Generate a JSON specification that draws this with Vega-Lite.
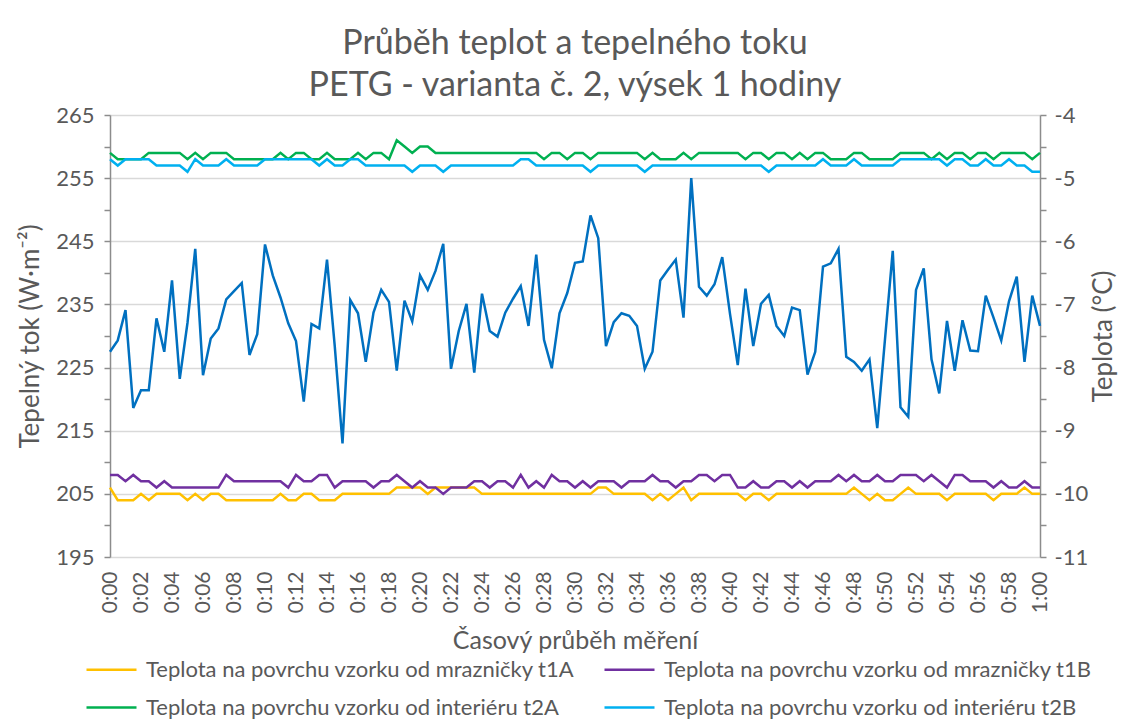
{
  "$schema": "https://vega.github.io/schema/vega-lite/v6.json",
  "width": 930,
  "height": 442,
  "autosize": {"type": "none"},
  "padding": {"left": 110, "top": 115, "right": 95, "bottom": 165},
  "background": "white",
  "title": {
    "text": ["Průběh teplot a tepelného toku", "PETG - varianta č. 2, výsek 1 hodiny"],
    "fontSize": 34, "font": "Lato", "fontWeight": "normal", "color": "#595959",
    "lineHeight": 42, "anchor": "middle", "offset": 1
  },
  "config": {
    "font": "Lato",
    "view": {"stroke": null},
    "axis": {"labelFont": "Lato", "titleFont": "Lato", "labelColor": "#595959", "titleColor": "#595959", "titleFontWeight": "normal", "labelFontSize": 22, "titleFontSize": 26}
  },
  "data": {"values": [
    {"m":0,"q":227.5,"t1A":-9.9,"t1B":-9.7,"t2A":-4.6,"t2B":-4.7},
    {"m":0.5,"q":229.3,"t1A":-10.1,"t1B":-9.7,"t2A":-4.7,"t2B":-4.8},
    {"m":1,"q":234.1,"t1A":-10.1,"t1B":-9.8,"t2A":-4.7,"t2B":-4.7},
    {"m":1.5,"q":218.6,"t1A":-10.1,"t1B":-9.7,"t2A":-4.7,"t2B":-4.7},
    {"m":2,"q":221.4,"t1A":-10.0,"t1B":-9.8,"t2A":-4.7,"t2B":-4.7},
    {"m":2.5,"q":221.4,"t1A":-10.1,"t1B":-9.8,"t2A":-4.6,"t2B":-4.7},
    {"m":3,"q":232.8,"t1A":-10.0,"t1B":-9.9,"t2A":-4.6,"t2B":-4.8},
    {"m":3.5,"q":227.5,"t1A":-10.0,"t1B":-9.8,"t2A":-4.6,"t2B":-4.8},
    {"m":4,"q":238.8,"t1A":-10.0,"t1B":-9.9,"t2A":-4.6,"t2B":-4.8},
    {"m":4.5,"q":223.2,"t1A":-10.0,"t1B":-9.9,"t2A":-4.6,"t2B":-4.8},
    {"m":5,"q":232.1,"t1A":-10.1,"t1B":-9.9,"t2A":-4.7,"t2B":-4.9},
    {"m":5.5,"q":243.8,"t1A":-10.0,"t1B":-9.9,"t2A":-4.6,"t2B":-4.7},
    {"m":6,"q":223.8,"t1A":-10.1,"t1B":-9.9,"t2A":-4.7,"t2B":-4.8},
    {"m":6.5,"q":229.6,"t1A":-10.0,"t1B":-9.9,"t2A":-4.6,"t2B":-4.8},
    {"m":7,"q":231.2,"t1A":-10.0,"t1B":-9.9,"t2A":-4.6,"t2B":-4.8},
    {"m":7.5,"q":235.8,"t1A":-10.1,"t1B":-9.7,"t2A":-4.6,"t2B":-4.7},
    {"m":8,"q":237.1,"t1A":-10.1,"t1B":-9.8,"t2A":-4.7,"t2B":-4.8},
    {"m":8.5,"q":238.4,"t1A":-10.1,"t1B":-9.8,"t2A":-4.7,"t2B":-4.8},
    {"m":9,"q":227.0,"t1A":-10.1,"t1B":-9.8,"t2A":-4.7,"t2B":-4.8},
    {"m":9.5,"q":230.3,"t1A":-10.1,"t1B":-9.8,"t2A":-4.7,"t2B":-4.8},
    {"m":10,"q":244.5,"t1A":-10.1,"t1B":-9.8,"t2A":-4.7,"t2B":-4.7},
    {"m":10.5,"q":239.6,"t1A":-10.1,"t1B":-9.8,"t2A":-4.7,"t2B":-4.7},
    {"m":11,"q":236.1,"t1A":-10.0,"t1B":-9.8,"t2A":-4.6,"t2B":-4.7},
    {"m":11.5,"q":232.0,"t1A":-10.1,"t1B":-9.9,"t2A":-4.7,"t2B":-4.7},
    {"m":12,"q":229.2,"t1A":-10.1,"t1B":-9.7,"t2A":-4.6,"t2B":-4.7},
    {"m":12.5,"q":219.6,"t1A":-10.0,"t1B":-9.8,"t2A":-4.6,"t2B":-4.7},
    {"m":13,"q":231.9,"t1A":-10.0,"t1B":-9.8,"t2A":-4.7,"t2B":-4.7},
    {"m":13.5,"q":231.2,"t1A":-10.1,"t1B":-9.7,"t2A":-4.7,"t2B":-4.8},
    {"m":14,"q":242.1,"t1A":-10.1,"t1B":-9.7,"t2A":-4.6,"t2B":-4.7},
    {"m":14.5,"q":228.4,"t1A":-10.1,"t1B":-9.9,"t2A":-4.7,"t2B":-4.8},
    {"m":15,"q":213.0,"t1A":-10.0,"t1B":-9.8,"t2A":-4.7,"t2B":-4.8},
    {"m":15.5,"q":235.7,"t1A":-10.0,"t1B":-9.8,"t2A":-4.7,"t2B":-4.7},
    {"m":16,"q":233.6,"t1A":-10.0,"t1B":-9.8,"t2A":-4.6,"t2B":-4.7},
    {"m":16.5,"q":225.9,"t1A":-10.0,"t1B":-9.8,"t2A":-4.7,"t2B":-4.8},
    {"m":17,"q":233.7,"t1A":-10.0,"t1B":-9.9,"t2A":-4.6,"t2B":-4.8},
    {"m":17.5,"q":237.3,"t1A":-10.0,"t1B":-9.8,"t2A":-4.6,"t2B":-4.8},
    {"m":18,"q":235.4,"t1A":-10.0,"t1B":-9.8,"t2A":-4.7,"t2B":-4.8},
    {"m":18.5,"q":224.5,"t1A":-9.9,"t1B":-9.7,"t2A":-4.4,"t2B":-4.8},
    {"m":19,"q":235.6,"t1A":-9.9,"t1B":-9.8,"t2A":-4.5,"t2B":-4.8},
    {"m":19.5,"q":232.3,"t1A":-9.9,"t1B":-9.9,"t2A":-4.6,"t2B":-4.9},
    {"m":20,"q":239.6,"t1A":-9.9,"t1B":-9.8,"t2A":-4.5,"t2B":-4.8},
    {"m":20.5,"q":237.3,"t1A":-10.0,"t1B":-9.9,"t2A":-4.5,"t2B":-4.8},
    {"m":21,"q":240.3,"t1A":-9.9,"t1B":-9.9,"t2A":-4.6,"t2B":-4.8},
    {"m":21.5,"q":244.6,"t1A":-9.9,"t1B":-10.0,"t2A":-4.6,"t2B":-4.9},
    {"m":22,"q":224.8,"t1A":-9.9,"t1B":-9.9,"t2A":-4.6,"t2B":-4.8},
    {"m":22.5,"q":230.8,"t1A":-9.9,"t1B":-9.9,"t2A":-4.6,"t2B":-4.8},
    {"m":23,"q":235.1,"t1A":-9.9,"t1B":-9.9,"t2A":-4.6,"t2B":-4.8},
    {"m":23.5,"q":224.2,"t1A":-9.9,"t1B":-9.8,"t2A":-4.6,"t2B":-4.8},
    {"m":24,"q":236.7,"t1A":-10.0,"t1B":-9.8,"t2A":-4.6,"t2B":-4.8},
    {"m":24.5,"q":230.8,"t1A":-10.0,"t1B":-9.9,"t2A":-4.6,"t2B":-4.8},
    {"m":25,"q":229.9,"t1A":-10.0,"t1B":-9.8,"t2A":-4.6,"t2B":-4.8},
    {"m":25.5,"q":233.7,"t1A":-10.0,"t1B":-9.8,"t2A":-4.6,"t2B":-4.8},
    {"m":26,"q":235.9,"t1A":-10.0,"t1B":-9.9,"t2A":-4.6,"t2B":-4.8},
    {"m":26.5,"q":237.9,"t1A":-10.0,"t1B":-9.7,"t2A":-4.6,"t2B":-4.7},
    {"m":27,"q":231.6,"t1A":-10.0,"t1B":-9.9,"t2A":-4.6,"t2B":-4.7},
    {"m":27.5,"q":242.9,"t1A":-10.0,"t1B":-9.8,"t2A":-4.6,"t2B":-4.8},
    {"m":28,"q":229.4,"t1A":-10.0,"t1B":-9.9,"t2A":-4.7,"t2B":-4.8},
    {"m":28.5,"q":224.9,"t1A":-10.0,"t1B":-9.7,"t2A":-4.6,"t2B":-4.8},
    {"m":29,"q":233.6,"t1A":-10.0,"t1B":-9.8,"t2A":-4.6,"t2B":-4.8},
    {"m":29.5,"q":236.8,"t1A":-10.0,"t1B":-9.8,"t2A":-4.7,"t2B":-4.8},
    {"m":30,"q":241.6,"t1A":-10.0,"t1B":-9.9,"t2A":-4.6,"t2B":-4.8},
    {"m":30.5,"q":241.8,"t1A":-10.0,"t1B":-9.8,"t2A":-4.6,"t2B":-4.8},
    {"m":31,"q":249.1,"t1A":-10.0,"t1B":-9.9,"t2A":-4.7,"t2B":-4.9},
    {"m":31.5,"q":245.5,"t1A":-9.9,"t1B":-9.8,"t2A":-4.6,"t2B":-4.8},
    {"m":32,"q":228.4,"t1A":-9.9,"t1B":-9.8,"t2A":-4.6,"t2B":-4.8},
    {"m":32.5,"q":232.2,"t1A":-10.0,"t1B":-9.8,"t2A":-4.6,"t2B":-4.8},
    {"m":33,"q":233.6,"t1A":-10.0,"t1B":-9.9,"t2A":-4.6,"t2B":-4.8},
    {"m":33.5,"q":233.2,"t1A":-10.0,"t1B":-9.8,"t2A":-4.6,"t2B":-4.8},
    {"m":34,"q":231.6,"t1A":-10.0,"t1B":-9.8,"t2A":-4.6,"t2B":-4.8},
    {"m":34.5,"q":224.8,"t1A":-10.0,"t1B":-9.8,"t2A":-4.7,"t2B":-4.9},
    {"m":35,"q":227.5,"t1A":-10.1,"t1B":-9.7,"t2A":-4.6,"t2B":-4.8},
    {"m":35.5,"q":238.8,"t1A":-10.0,"t1B":-9.8,"t2A":-4.7,"t2B":-4.8},
    {"m":36,"q":240.5,"t1A":-10.1,"t1B":-9.8,"t2A":-4.7,"t2B":-4.8},
    {"m":36.5,"q":242.1,"t1A":-10.0,"t1B":-9.9,"t2A":-4.7,"t2B":-4.8},
    {"m":37,"q":232.9,"t1A":-9.9,"t1B":-9.8,"t2A":-4.6,"t2B":-4.8},
    {"m":37.5,"q":255.0,"t1A":-10.1,"t1B":-9.8,"t2A":-4.7,"t2B":-4.8},
    {"m":38,"q":237.8,"t1A":-10.0,"t1B":-9.7,"t2A":-4.6,"t2B":-4.8},
    {"m":38.5,"q":236.4,"t1A":-10.0,"t1B":-9.7,"t2A":-4.6,"t2B":-4.8},
    {"m":39,"q":238.2,"t1A":-10.0,"t1B":-9.8,"t2A":-4.6,"t2B":-4.8},
    {"m":39.5,"q":242.5,"t1A":-10.0,"t1B":-9.7,"t2A":-4.6,"t2B":-4.8},
    {"m":40,"q":233.5,"t1A":-10.0,"t1B":-9.7,"t2A":-4.6,"t2B":-4.8},
    {"m":40.5,"q":225.4,"t1A":-10.0,"t1B":-9.9,"t2A":-4.6,"t2B":-4.8},
    {"m":41,"q":237.5,"t1A":-10.1,"t1B":-9.9,"t2A":-4.7,"t2B":-4.8},
    {"m":41.5,"q":228.4,"t1A":-10.0,"t1B":-9.8,"t2A":-4.6,"t2B":-4.8},
    {"m":42,"q":235.1,"t1A":-10.0,"t1B":-9.9,"t2A":-4.6,"t2B":-4.8},
    {"m":42.5,"q":236.5,"t1A":-10.1,"t1B":-9.9,"t2A":-4.7,"t2B":-4.9},
    {"m":43,"q":231.6,"t1A":-10.0,"t1B":-9.8,"t2A":-4.6,"t2B":-4.8},
    {"m":43.5,"q":230.0,"t1A":-10.0,"t1B":-9.8,"t2A":-4.6,"t2B":-4.8},
    {"m":44,"q":234.5,"t1A":-10.0,"t1B":-9.9,"t2A":-4.7,"t2B":-4.8},
    {"m":44.5,"q":234.1,"t1A":-10.0,"t1B":-9.8,"t2A":-4.6,"t2B":-4.8},
    {"m":45,"q":223.9,"t1A":-10.0,"t1B":-9.9,"t2A":-4.7,"t2B":-4.8},
    {"m":45.5,"q":227.5,"t1A":-10.0,"t1B":-9.8,"t2A":-4.6,"t2B":-4.8},
    {"m":46,"q":241.0,"t1A":-10.0,"t1B":-9.8,"t2A":-4.6,"t2B":-4.7},
    {"m":46.5,"q":241.5,"t1A":-10.0,"t1B":-9.8,"t2A":-4.7,"t2B":-4.8},
    {"m":47,"q":243.8,"t1A":-10.0,"t1B":-9.7,"t2A":-4.7,"t2B":-4.8},
    {"m":47.5,"q":226.7,"t1A":-10.0,"t1B":-9.8,"t2A":-4.7,"t2B":-4.8},
    {"m":48,"q":225.9,"t1A":-9.9,"t1B":-9.7,"t2A":-4.6,"t2B":-4.7},
    {"m":48.5,"q":224.5,"t1A":-10.0,"t1B":-9.8,"t2A":-4.6,"t2B":-4.8},
    {"m":49,"q":226.3,"t1A":-10.1,"t1B":-9.8,"t2A":-4.7,"t2B":-4.8},
    {"m":49.5,"q":215.4,"t1A":-10.0,"t1B":-9.7,"t2A":-4.7,"t2B":-4.8},
    {"m":50,"q":229.5,"t1A":-10.1,"t1B":-9.8,"t2A":-4.7,"t2B":-4.8},
    {"m":50.5,"q":243.5,"t1A":-10.1,"t1B":-9.8,"t2A":-4.7,"t2B":-4.8},
    {"m":51,"q":218.7,"t1A":-10.0,"t1B":-9.7,"t2A":-4.6,"t2B":-4.7},
    {"m":51.5,"q":217.2,"t1A":-9.9,"t1B":-9.7,"t2A":-4.6,"t2B":-4.7},
    {"m":52,"q":237.3,"t1A":-10.0,"t1B":-9.7,"t2A":-4.6,"t2B":-4.7},
    {"m":52.5,"q":240.7,"t1A":-10.0,"t1B":-9.8,"t2A":-4.6,"t2B":-4.7},
    {"m":53,"q":226.3,"t1A":-10.0,"t1B":-9.7,"t2A":-4.7,"t2B":-4.7},
    {"m":53.5,"q":220.9,"t1A":-10.0,"t1B":-9.8,"t2A":-4.6,"t2B":-4.7},
    {"m":54,"q":232.4,"t1A":-10.1,"t1B":-9.9,"t2A":-4.7,"t2B":-4.8},
    {"m":54.5,"q":224.5,"t1A":-10.0,"t1B":-9.7,"t2A":-4.6,"t2B":-4.7},
    {"m":55,"q":232.5,"t1A":-10.0,"t1B":-9.7,"t2A":-4.6,"t2B":-4.7},
    {"m":55.5,"q":227.7,"t1A":-10.0,"t1B":-9.8,"t2A":-4.7,"t2B":-4.8},
    {"m":56,"q":227.6,"t1A":-10.0,"t1B":-9.8,"t2A":-4.6,"t2B":-4.8},
    {"m":56.5,"q":236.4,"t1A":-10.0,"t1B":-9.8,"t2A":-4.6,"t2B":-4.7},
    {"m":57,"q":232.9,"t1A":-10.1,"t1B":-9.9,"t2A":-4.7,"t2B":-4.8},
    {"m":57.5,"q":229.3,"t1A":-10.0,"t1B":-9.8,"t2A":-4.6,"t2B":-4.8},
    {"m":58,"q":235.5,"t1A":-10.0,"t1B":-9.9,"t2A":-4.6,"t2B":-4.7},
    {"m":58.5,"q":239.4,"t1A":-10.0,"t1B":-9.9,"t2A":-4.6,"t2B":-4.8},
    {"m":59,"q":225.9,"t1A":-9.9,"t1B":-9.8,"t2A":-4.6,"t2B":-4.8},
    {"m":59.5,"q":236.4,"t1A":-10.0,"t1B":-9.9,"t2A":-4.7,"t2B":-4.9},
    {"m":60,"q":231.6,"t1A":-10.0,"t1B":-9.9,"t2A":-4.6,"t2B":-4.9}
  ]},
  "encoding": {
    "x": {
      "field": "m", "type": "quantitative",
      "scale": {"domain": [0, 60], "nice": false, "zero": false},
      "axis": {
        "values": [0,2,4,6,8,10,12,14,16,18,20,22,24,26,28,30,32,34,36,38,40,42,44,46,48,50,52,54,56,58,60],
        "labelExpr": "datum.value == 60 ? '1:00' : '0:' + (datum.value < 10 ? '0' : '') + datum.value",
        "labelAngle": 270, "labelPadding": 14, "labelFontSize": 21, "ticks": false, "domain": false, "grid": false,
        "title": "Časový průběh měření", "titleFontSize": 25, "titleBaseline": "middle", "titleY": 83, "labelOverlap": false
      }
    }
  },
  "layer": [
    {
      "mark": {"type": "line", "color": "#0070C0", "strokeWidth": 2.5},
      "encoding": {
        "y": {
          "field": "q", "type": "quantitative",
          "scale": {"domain": [195, 265], "nice": false, "zero": false},
          "axis": {
            "values": [195,200,205,210,215,220,225,230,235,240,245,250,255,260,265],
            "labelExpr": "datum.value % 10 == 5 ? datum.label : ''",
            "grid": true, "gridColor": "#D9D9D9", "gridWidth": 1.5,
            "gridOpacity": {"condition": {"test": "datum.value % 10 == 5", "value": 1}, "value": 0},
            "domainColor": "#8C8C8C", "domainWidth": 1.5, "tickColor": "#8C8C8C", "tickSize": 6, "tickWidth": 1.5,
            "labelPadding": 10,
            "title": "Tepelný tok (W·m⁻²)", "titleBaseline": "middle", "titleX": -80, "titleAngle": 270
          }
        }
      }
    },
    {
      "transform": [{"fold": ["t1A", "t1B", "t2A", "t2B"], "as": ["s", "v"]}],
      "mark": {"type": "line", "strokeWidth": 2.5},
      "encoding": {
        "y": {
          "field": "v", "type": "quantitative",
          "scale": {"domain": [-11, -4], "nice": false, "zero": false},
          "axis": {
            "orient": "right",
            "values": [-11,-10.5,-10,-9.5,-9,-8.5,-8,-7.5,-7,-6.5,-6,-5.5,-5,-4.5,-4],
            "labelExpr": "datum.value % 1 == 0 ? '' + datum.value : ''",
            "grid": false,
            "domainColor": "#8C8C8C", "domainWidth": 1.5, "tickColor": "#8C8C8C", "tickSize": 6, "tickWidth": 1.5,
            "labelPadding": 8,
            "title": "Teplota (°C)", "titleBaseline": "middle", "titleX": 63, "titleAngle": 270
          }
        },
        "color": {
          "field": "s", "type": "nominal",
          "scale": {"domain": ["t1A", "t1B", "t2A", "t2B"], "range": ["#FFC000", "#7030A0", "#00B050", "#00B0F0"]},
          "legend": {
            "title": null, "orient": "none", "legendX": -25, "legendY": 528,
            "columns": 2, "direction": "horizontal",
            "labelExpr": "'Teplota na povrchu vzorku od ' + (indexof(datum.label, '1') >= 0 ? 'mrazničky ' : 'interiéru ') + datum.label",
            "labelFont": "Lato", "labelFontSize": 22, "labelColor": "#595959", "labelLimit": 700,
            "symbolType": "stroke", "symbolSize": 2500, "symbolStrokeWidth": 2.5,
            "labelOffset": 8, "columnPadding": 24, "rowPadding": -13
          }
        }
      }
    }
  ],
  "resolve": {"scale": {"y": "independent", "color": "independent"}}
}
